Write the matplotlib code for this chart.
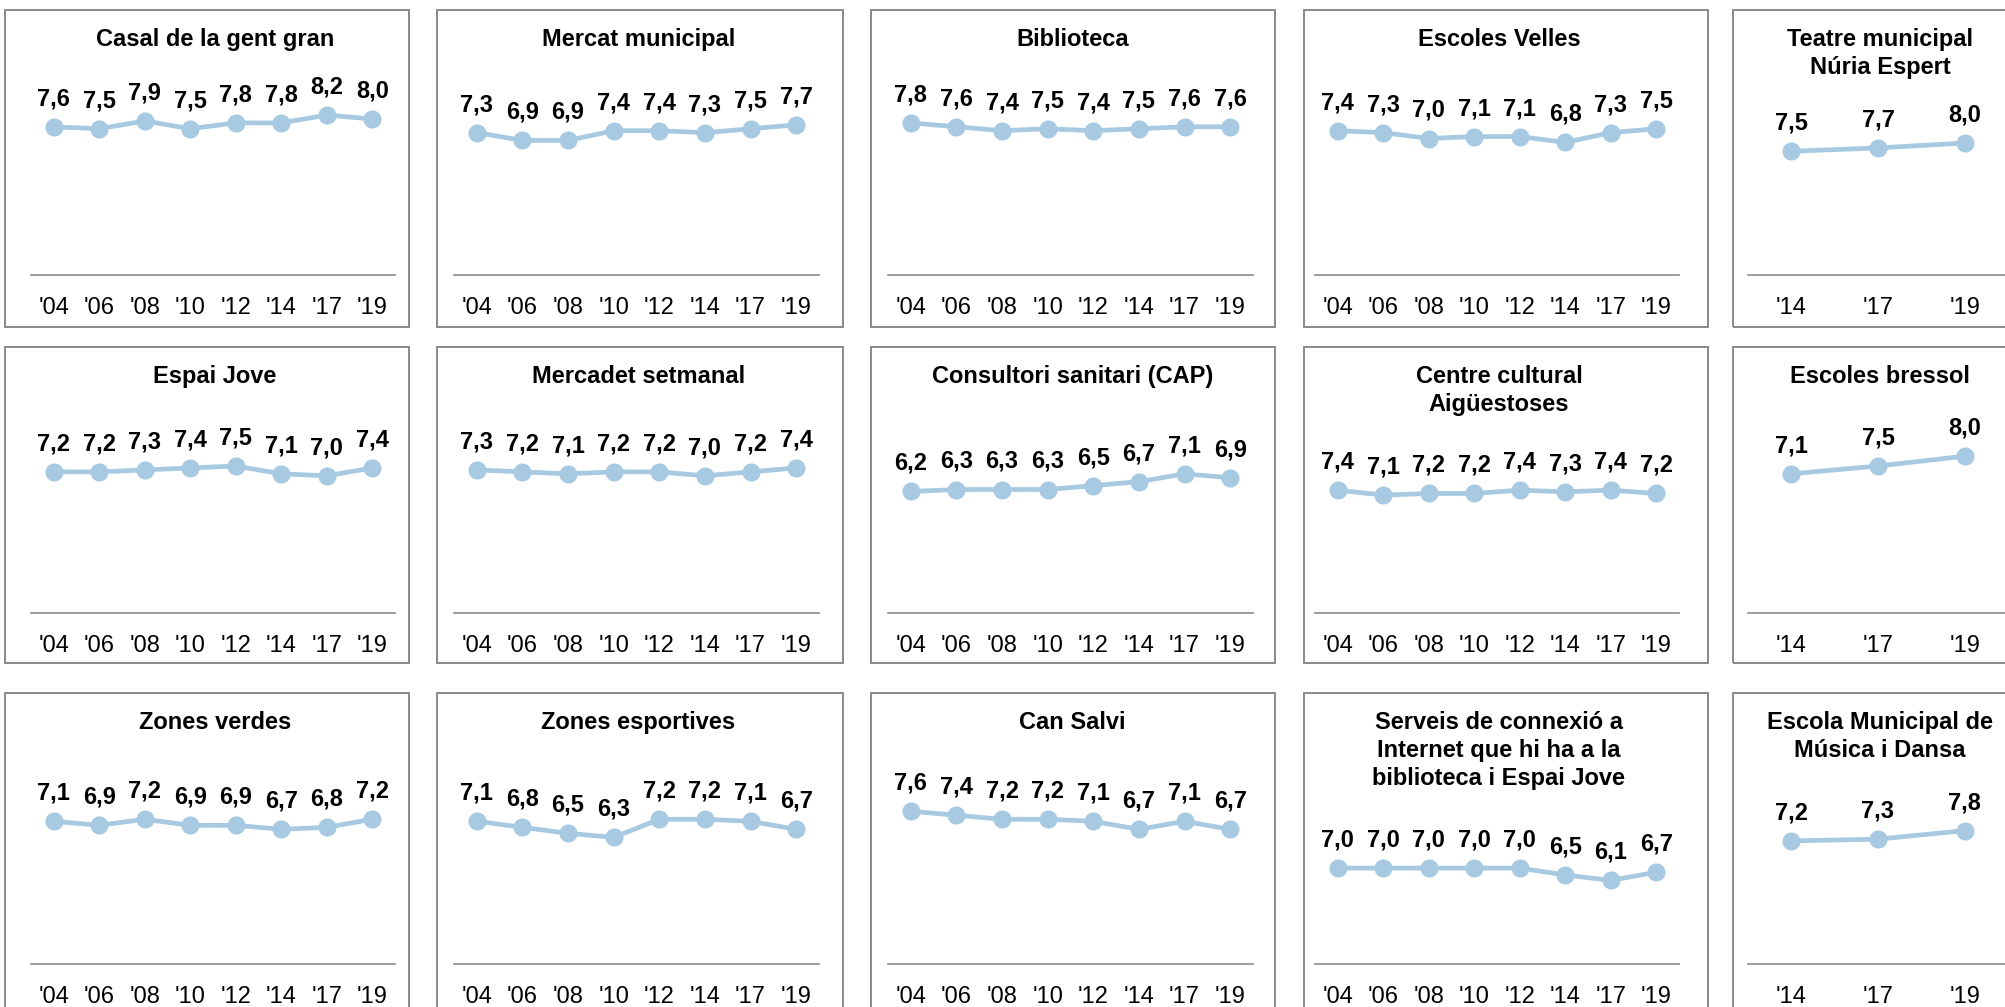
import matplotlib
matplotlib.use("Agg")
import matplotlib.pyplot as plt
import matplotlib.patches as mpatches

plt.rcParams["font.family"] = ["Liberation Sans", "DejaVu Sans"]

# --- data -------------------------------------------------------------
years_long = ["'04", "'06", "'08", "'10", "'12", "'14", "'17", "'19"]
years_short = ["'14", "'17", "'19"]

titles = [
    "Casal de la gent gran", "Mercat municipal", "Biblioteca", "Escoles Velles",
    "Teatre municipal\nNúria Espert",
    "Espai Jove", "Mercadet setmanal", "Consultori sanitari (CAP)",
    "Centre cultural\nAigüestoses", "Escoles bressol",
    "Zones verdes", "Zones esportives", "Can Salvi",
    "Serveis de connexió a\nInternet que hi ha a la\nbiblioteca i Espai Jove",
    "Escola Municipal de\nMúsica i Dansa",
]

casal = [7.6, 7.5, 7.9, 7.5, 7.8, 7.8, 8.2, 8.0]
mercat = [7.3, 6.9, 6.9, 7.4, 7.4, 7.3, 7.5, 7.7]
biblioteca = [7.8, 7.6, 7.4, 7.5, 7.4, 7.5, 7.6, 7.6]
escoles_velles = [7.4, 7.3, 7.0, 7.1, 7.1, 6.8, 7.3, 7.5]
teatre = [7.5, 7.7, 8.0]
espai_jove = [7.2, 7.2, 7.3, 7.4, 7.5, 7.1, 7.0, 7.4]
mercadet = [7.3, 7.2, 7.1, 7.2, 7.2, 7.0, 7.2, 7.4]
consultori = [6.2, 6.3, 6.3, 6.3, 6.5, 6.7, 7.1, 6.9]
centre_cultural = [7.4, 7.1, 7.2, 7.2, 7.4, 7.3, 7.4, 7.2]
escoles_bressol = [7.1, 7.5, 8.0]
zones_verdes = [7.1, 6.9, 7.2, 6.9, 6.9, 6.7, 6.8, 7.2]
zones_esportives = [7.1, 6.8, 6.5, 6.3, 7.2, 7.2, 7.1, 6.7]
can_salvi = [7.6, 7.4, 7.2, 7.2, 7.1, 6.7, 7.1, 6.7]
internet = [7.0, 7.0, 7.0, 7.0, 7.0, 6.5, 6.1, 6.7]
escola_musica = [7.2, 7.3, 7.8]

series = [casal, mercat, biblioteca, escoles_velles, teatre,
          espai_jove, mercadet, consultori, centre_cultural, escoles_bressol,
          zones_verdes, zones_esportives, can_salvi, internet, escola_musica]

# --- layout (pixels, origin top-left) --------------------------------
W, H = 2006, 1007
col_frames = [(5, 409), (437, 843), (871, 1275), (1304, 1708), (1733, 2040)]
col_axes = [(31, 395), (454, 819), (888, 1253), (1315, 1679), (1748, 2008)]
row_frames = [(10, 327), (347, 663), (693, 1030)]
row_axis_y = [275, 613, 964]
top_by_lines = {1: 70, 2: 100, 3: 134}

LINE_COLOR = "#a7c9e1"
GRAY = "#8a8a8a"
FS = 17

fig = plt.figure(figsize=(W / 100, H / 100), dpi=100)
fig.patch.set_facecolor("white")


def fx(px):
    return px / W


def fy(py):
    return 1 - py / H


for i, (title, vals) in enumerate(zip(titles, series)):
    r, c = divmod(i, 5)
    fl, fr = col_frames[c]
    ft, fb = row_frames[r]
    fig.patches.append(mpatches.Rectangle(
        (fx(fl), fy(fb)), fx(fr - fl), (fb - ft) / H,
        transform=fig.transFigure, fill=False, edgecolor=GRAY, linewidth=1.4))

    n_lines = title.count("\n") + 1
    al, ar = col_axes[c]
    ay = row_axis_y[r]
    atop = ft + top_by_lines[n_lines]
    ax = fig.add_axes([fx(al), fy(ay), fx(ar - al), (ay - atop) / H])

    labels = years_long if len(vals) == 8 else years_short
    x = list(range(len(vals)))
    ax.plot(x, vals, color=LINE_COLOR, linewidth=3.4, marker="o",
            markersize=12, clip_on=False, solid_capstyle="round")
    for xi, v in zip(x, vals):
        ax.annotate(f"{v:.1f}".replace(".", ","), (xi, v), xytext=(0, 15.5),
                    textcoords="offset points", ha="center", va="baseline",
                    fontsize=FS, fontweight="bold", color="black")

    ax.set_xlim(-0.5, len(vals) - 0.5)
    ax.set_ylim(0, 10)
    ax.set_xticks(x)
    ax.set_xticklabels(labels, fontsize=FS)
    ax.set_yticks([])
    ax.tick_params(axis="x", length=0, pad=16)
    for side in ("top", "left", "right"):
        ax.spines[side].set_visible(False)
    ax.spines["bottom"].set_color(GRAY)
    ax.spines["bottom"].set_linewidth(1.2)
    ax.patch.set_alpha(0)

    fig.text(fx((al + ar) / 2 + 2), fy(ft + 18), title, ha="center", va="top",
             fontsize=FS, fontweight="bold", linespacing=1.27)

fig.savefig("out.png", dpi=100, facecolor="white")
